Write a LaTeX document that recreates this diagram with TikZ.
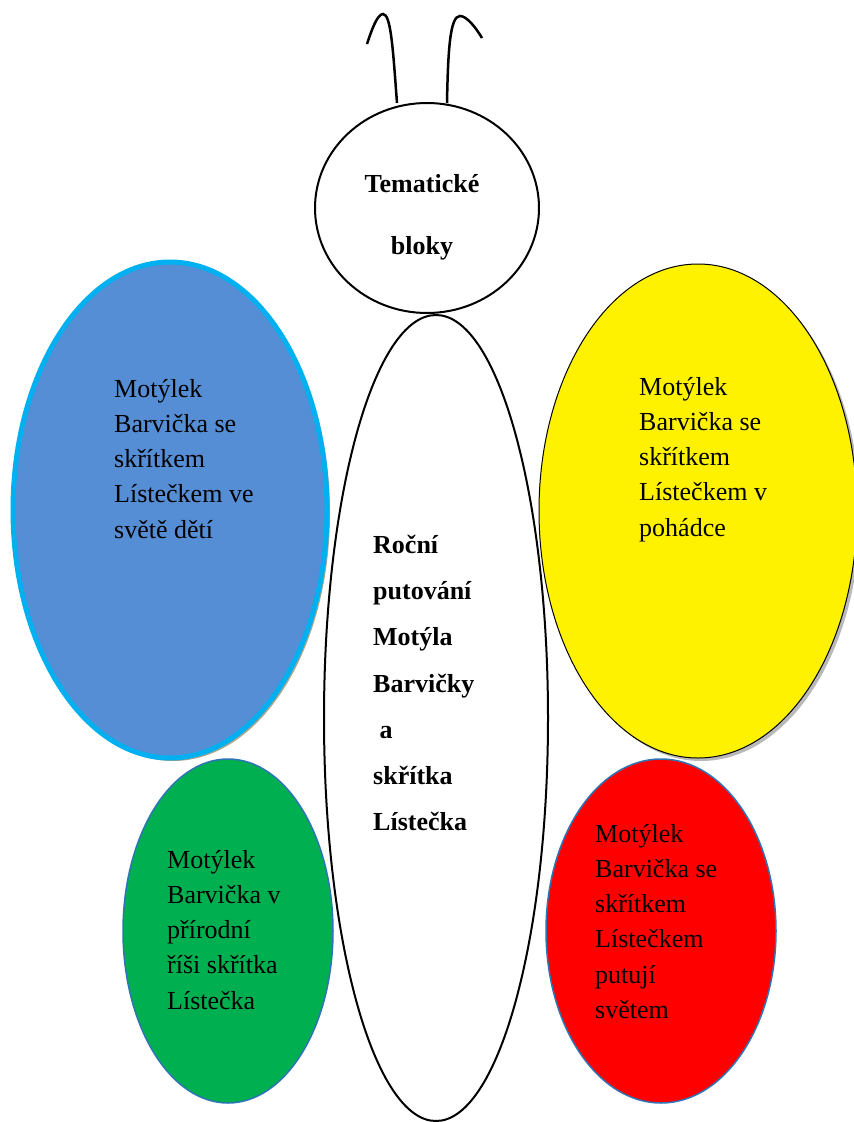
\documentclass[tikz,border=0pt]{standalone}
\usepackage{fontspec}
\setmainfont{Liberation Serif}

\definecolor{wingblue}{RGB}{85,142,213}
\definecolor{wingcyan}{RGB}{0,176,240}
\definecolor{winggreen}{RGB}{0,176,80}
\definecolor{wingedge}{RGB}{46,117,182}
\definecolor{wingshadow}{RGB}{166,166,143}

\begin{document}
\begin{tikzpicture}[x=1pt,y=-1pt,
  wingtext/.style={inner sep=0pt,anchor=north west,align=left,font=\fontsize{26}{35.2}\selectfont},
  bodytext/.style={inner sep=0pt,anchor=north west,align=left,font=\fontsize{26}{46.2}\selectfont\bfseries},
  headtext/.style={inner sep=0pt,anchor=north,align=center,font=\fontsize{26}{62}\selectfont\bfseries}]
\useasboundingbox (0,0) rectangle (854,1122);
\fill[white] (0,0) rectangle (854,1122);

% antennae
\draw[line width=2.5pt] (397,103) .. controls (393,50) and (391,14) .. (383,14) .. controls (377,14) and (371,32) .. (367,44);
\draw[line width=2.5pt] (447,103) .. controls (448,50) and (450,16) .. (460,16) .. controls (467,16) and (476,28) .. (482,38);

% head and body
\draw[line width=2pt,fill=white] (427,208) ellipse (112 and 105);
\draw[line width=2pt,fill=white] (436,718) ellipse (112 and 403);

% wings
\fill[wingshadow] (173,513) ellipse (157 and 248);
\draw[wingcyan,line width=5pt,fill=wingblue] (170,510) ellipse (157 and 248);

\fill[gray!55] (701,514) ellipse (159 and 247);
\draw[black,line width=1pt,fill=yellow] (698,511) ellipse (159 and 247);

\draw[wingedge,line width=1.5pt,fill=winggreen] (228,931) ellipse (105 and 172);
\draw[wingedge,line width=1.5pt,fill=red] (661,931) ellipse (115 and 172);

% texts
\node[headtext] (head) at (422,174) {Tematické\\bloky};
\node[bodytext] (body) at (373,535) {Roční\\putování\\Motýla\\Barvičky\\\ a\\skřítka\\Lístečka};
\node[wingtext] (blue) at (114,379) {Motýlek\\Barvička se\\skřítkem\\Lístečkem ve\\světě dětí};
\node[wingtext] (yellow) at (639,377) {Motýlek\\Barvička se\\skřítkem\\Lístečkem v\\pohádce};
\node[wingtext] (green) at (167,850) {Motýlek\\Barvička v\\přírodní\\říši skřítka\\Lístečka};
\node[wingtext] (red) at (595,824) {Motýlek\\Barvička se\\skřítkem\\Lístečkem\\putují\\světem};
\end{tikzpicture}
\end{document}
